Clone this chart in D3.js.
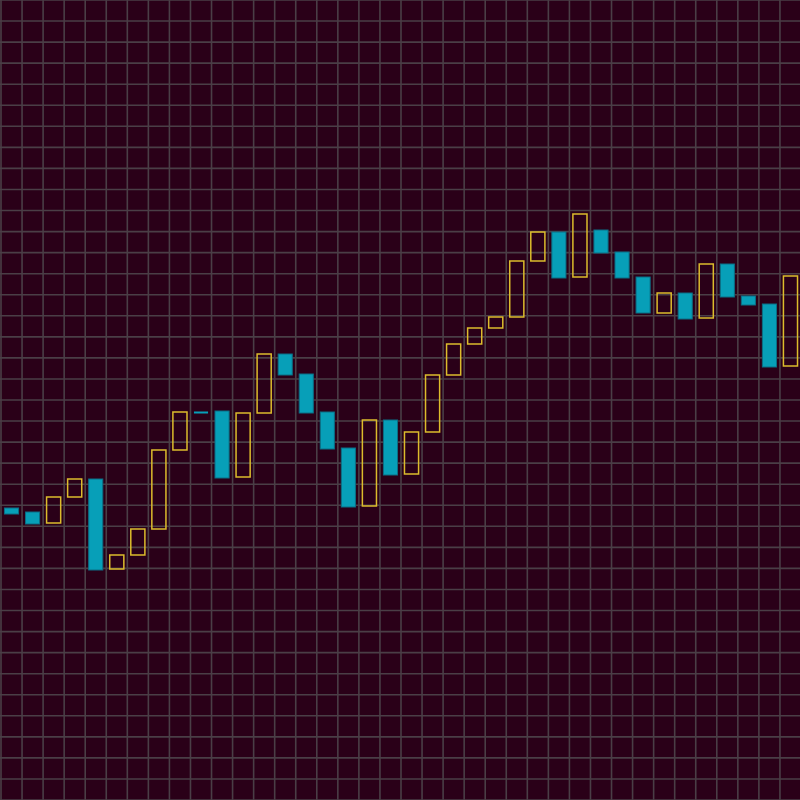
<!DOCTYPE html>
<html>
<head>
<meta charset="utf-8">
<script src="https://cdn.jsdelivr.net/npm/d3@7"></script>
<style>
  html, body { margin: 0; padding: 0; background: #2a0018; }
  svg { display: block; }
</style>
</head>
<body>
<svg id="chart" width="800" height="800"></svg>
<script>
const days = d3.range(1, 39).map(i => "D" + i);
const opens = [73, 72, 69.25, 75.75, 80.25, 57.75, 61.25, 67.75, 87.5, 97,
  97.25, 80.75, 96.75, 111.5, 106.5, 97, 88, 73.5, 95, 81.5,
  92, 106.25, 114, 118, 120.75, 134.75, 142, 130.75, 142.5, 137,
  130.75, 121.75, 126.75, 120.5, 134, 126, 124, 108.5];
const closes = [71.5, 69, 75.75, 80.25, 57.5, 61.25, 67.75, 87.5, 97, 96.75,
  80.5, 96.75, 111.5, 106.25, 96.75, 87.75, 73.25, 95, 81.25, 92,
  106.25, 114, 118, 120.75, 134.75, 142, 130.5, 146.5, 136.75, 130.5,
  121.75, 126.75, 120.25, 134, 125.75, 123.75, 108.25, 131];

const W = 800, H = 800;
const svg = d3.select("#chart");

svg.append("rect").attr("width", W).attr("height", H).attr("fill", "#2a0018");

const x = d3.scaleBand().domain(days).range([1, W + 1]).paddingInner(0.33).paddingOuter(0.165);
const y = d3.scaleLinear().domain([0, 200]).range([H, 0]);

// grid
const nCells = days.length;
const gx = d3.range(nCells + 1).map(i => 1 + i * W / nCells);
const gy = d3.range(nCells + 1).map(i => i * H / nCells);
const grid = svg.append("g").attr("stroke", "#4a3e46").attr("stroke-width", 1.6);
grid.selectAll("line.v").data(gx).join("line").attr("class", "v")
  .attr("x1", d => d).attr("x2", d => d).attr("y1", 0).attr("y2", H);
grid.selectAll("line.h").data(gy).join("line").attr("class", "h")
  .attr("x1", 0).attr("x2", W).attr("y1", d => d).attr("y2", d => d);

const data = days.map((d, i) => ({ day: d, open: opens[i], close: closes[i] }));
const bodyH = d => Math.abs(y(d.open) - y(d.close));

svg.append("g").selectAll("rect").data(data).join("rect")
  .attr("x", d => x(d.day))
  .attr("width", x.bandwidth())
  .attr("y", d => bodyH(d) < 2 ? y(Math.max(d.open, d.close)) - 0.5 : y(Math.max(d.open, d.close)))
  .attr("height", d => Math.max(2, bodyH(d)))
  .attr("fill", d => d.close >= d.open ? "none" : "#079fb8")
  .attr("stroke", d => d.close >= d.open ? "#dcbc2c" : (bodyH(d) < 2 ? "none" : "#0b6f85"))
  .attr("stroke-width", d => d.close >= d.open ? 1.5 : 1);
</script>
</body>
</html>
